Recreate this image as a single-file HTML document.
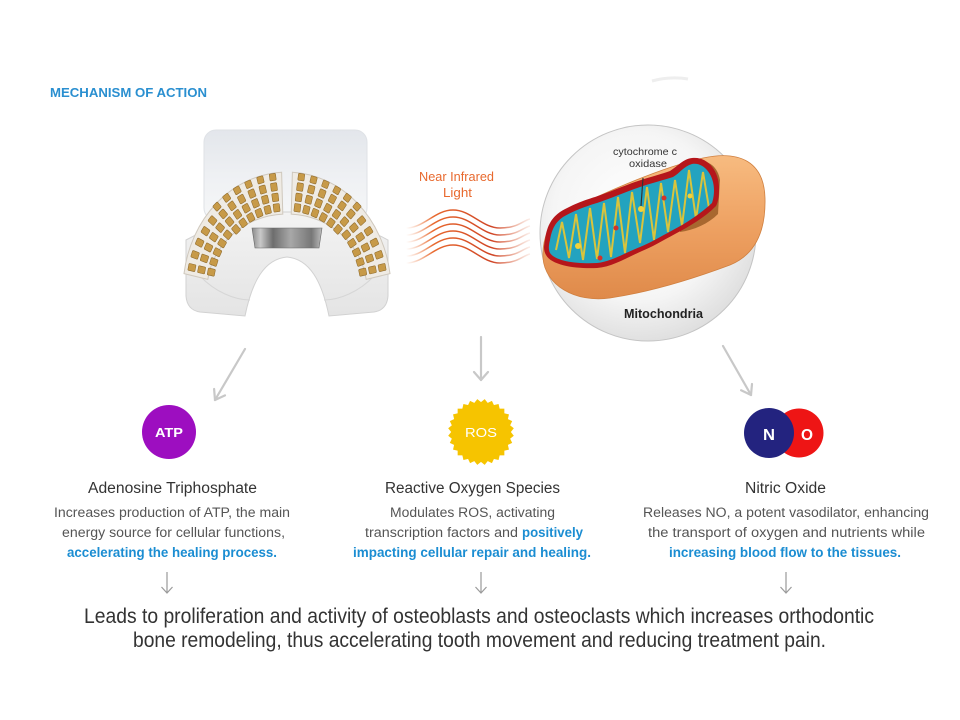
<!DOCTYPE html>
<html><head><meta charset="utf-8"><style>
html,body{margin:0;padding:0;background:#fff;}
svg{display:block;}
text{font-family:"Liberation Sans",Arial,sans-serif;}
</style></head><body>
<svg width="960" height="720" viewBox="0 0 960 720" xmlns="http://www.w3.org/2000/svg">
<defs>
  <linearGradient id="plate" x1="0" y1="0" x2="0" y2="1">
    <stop offset="0" stop-color="#e3e6eb"/><stop offset="0.5" stop-color="#eef0f3"/><stop offset="1" stop-color="#f6f7f8"/>
  </linearGradient>
  <linearGradient id="tray" x1="0" y1="0" x2="0" y2="1">
    <stop offset="0" stop-color="#f3f3f3"/><stop offset="1" stop-color="#e4e4e4"/>
  </linearGradient>
  <linearGradient id="metal" x1="0" y1="0" x2="1" y2="0">
    <stop offset="0" stop-color="#8a8a8a"/><stop offset="0.12" stop-color="#c9c9c9"/><stop offset="0.3" stop-color="#6d6d6d"/>
    <stop offset="0.55" stop-color="#a8a8a8"/><stop offset="0.85" stop-color="#777"/><stop offset="1" stop-color="#bdbdbd"/>
  </linearGradient>
  <radialGradient id="cg" cx="0.45" cy="0.42" r="0.6">
    <stop offset="0" stop-color="#ffffff"/><stop offset="0.65" stop-color="#f5f5f5"/><stop offset="1" stop-color="#dedede"/>
  </radialGradient>
  <linearGradient id="cap" x1="0" y1="0" x2="0" y2="1">
    <stop offset="0" stop-color="#f7bb80"/><stop offset="0.5" stop-color="#eea162"/><stop offset="1" stop-color="#df8a4a"/>
  </linearGradient>
  <linearGradient id="wave" gradientUnits="userSpaceOnUse" x1="406" y1="0" x2="530" y2="0">
    <stop offset="0" stop-color="#f3a27a" stop-opacity="0"/>
    <stop offset="0.22" stop-color="#e8692e" stop-opacity="1"/>
    <stop offset="0.7" stop-color="#cf4526" stop-opacity="1"/>
    <stop offset="1" stop-color="#e58a6a" stop-opacity="0.15"/>
  </linearGradient>
  <clipPath id="tealclip">
    <path d="M550 240 C552 228,556 222,563 217 C575 210,590 205,597 203 C612 198,628 191,640 187 C652 183,664 180,673 177 C680 173,684 166,692 164 C704 162,714 175,714 190 C714 196,713 200,712 203 C700 214,688 222,673 230 C660 237,650 243,640 247 C625 253,610 262,597 263 C580 264,556 262,550 253 C548 249,549 244,550 240 Z"/>
  </clipPath>
  <g id="padcol4" fill="#c79a48" stroke="#8e6a2c" stroke-width="0.6">
    <rect x="79" y="-3.5" width="8" height="7" rx="1"/>
    <rect x="89.5" y="-3.5" width="8" height="7" rx="1"/>
    <rect x="100" y="-3.5" width="8" height="7" rx="1"/>
    <rect x="110.5" y="-3.5" width="7" height="7" rx="1"/>
  </g>
  <g id="padcol3" fill="#c79a48" stroke="#8e6a2c" stroke-width="0.6">
    <rect x="82" y="-3.5" width="8" height="7" rx="1"/>
    <rect x="93" y="-3.5" width="8" height="7" rx="1"/>
    <rect x="104" y="-3.5" width="8" height="7" rx="1"/>
  </g>
</defs>

<!-- Header -->
<text x="50" y="97" font-size="13" font-weight="bold" fill="#2a8fd0" textLength="157" lengthAdjust="spacingAndGlyphs">MECHANISM OF ACTION</text>

<!-- Device -->
<rect x="204" y="130" width="163" height="90" rx="12" fill="url(#plate)" stroke="#dfe2e6" stroke-width="1"/>
<path d="M186 240 L240 212 L334 212 L388 240 L388 296 Q387 310 374 312 L329 316 C322 282,310 259,287 257 C264 259,252 282,245 316 L200 312 Q187 310 186 296 Z" fill="url(#tray)" stroke="#d2d2d2" stroke-width="1"/>
<path d="M200 276 C215 292,235 300,250 300" fill="none" stroke="#d6d6d6" stroke-width="1"/>
<path d="M374 276 C359 292,339 300,324 300" fill="none" stroke="#d6d6d6" stroke-width="1"/>
<!-- wings -->
<path d="M281.6 172.2 A104 118 0 0 0 184 273.6 L207.8 279.4 A80 76 0 0 1 282.8 214.1 Z" fill="#efebe4" stroke="#cfc8bd" stroke-width="1"/>
<path d="M292.4 172.2 A104 118 0 0 1 390 273.6 L366.2 279.4 A80 76 0 0 0 291.2 214.1 Z" fill="#efebe4" stroke="#cfc8bd" stroke-width="1"/>
<g transform="translate(287,290) scale(0.9,1)">
  <use href="#padcol4" transform="rotate(-98)"/>
  <use href="#padcol4" transform="rotate(-105)"/>
  <use href="#padcol4" transform="rotate(-112)"/>
  <use href="#padcol4" transform="rotate(-119)"/>
  <use href="#padcol4" transform="rotate(-126)"/>
  <use href="#padcol4" transform="rotate(-133)"/>
  <use href="#padcol3" transform="rotate(-140)"/>
  <use href="#padcol3" transform="rotate(-147)"/>
  <use href="#padcol3" transform="rotate(-154)"/>
  <use href="#padcol3" transform="rotate(-161)"/>
  <use href="#padcol3" transform="rotate(-168)"/>
  <use href="#padcol4" transform="rotate(-82)"/>
  <use href="#padcol4" transform="rotate(-75)"/>
  <use href="#padcol4" transform="rotate(-68)"/>
  <use href="#padcol4" transform="rotate(-61)"/>
  <use href="#padcol4" transform="rotate(-54)"/>
  <use href="#padcol4" transform="rotate(-47)"/>
  <use href="#padcol3" transform="rotate(-40)"/>
  <use href="#padcol3" transform="rotate(-33)"/>
  <use href="#padcol3" transform="rotate(-26)"/>
  <use href="#padcol3" transform="rotate(-19)"/>
  <use href="#padcol3" transform="rotate(-12)"/>
</g>
<path d="M252 228 L322 228 L319 248 L255 248 Z" fill="url(#metal)" stroke="#666" stroke-width="0.6"/>

<!-- Near infrared light -->
<text x="419" y="181" font-size="12.5" fill="#e8692e" textLength="75" lengthAdjust="spacingAndGlyphs">Near Infrared</text>
<text x="443" y="197" font-size="12.5" fill="#e8692e" textLength="29" lengthAdjust="spacingAndGlyphs">Light</text>
<g fill="none" stroke="url(#wave)" stroke-width="1.5">
  <path d="M406 228 C424 228,435 210,453 210 S482 228,500 228 S522 221,530 219"/>
  <path d="M406 235 C424 235,435 217,453 217 S482 235,500 235 S522 228,530 226"/>
  <path d="M406 242 C424 242,435 224,453 224 S482 242,500 242 S522 235,530 233"/>
  <path d="M406 249 C424 249,435 231,453 231 S482 249,500 249 S522 242,530 240"/>
  <path d="M406 256 C424 256,435 238,453 238 S482 256,500 256 S522 249,530 247"/>
  <path d="M406 263 C424 263,435 245,453 245 S482 263,500 263 S522 256,530 254"/>
</g>

<!-- Mitochondria -->
<path d="M652 81 Q670 76 688 79" fill="none" stroke="#e2e2e2" stroke-width="3" opacity="0.6"/>
<circle cx="648" cy="233" r="108" fill="url(#cg)" stroke="#c4c4c4" stroke-width="1"/>
<path d="M565 212 C610 190,660 168,703 158 C740 150,764 162,765 198 C766 236,752 256,730 265 C690 280,650 292,610 298 C575 303,545 285,543 258 C542 238,550 220,565 212 Z" fill="url(#cap)" stroke="#d08040" stroke-width="0.8"/>
<path d="M676 170 C690 156,716 156,720 180 L718 214 C708 224,694 230,680 232 Z" fill="#a8672f"/>
<path d="M545 240 C547 224,553 217,560 212 C573 204,588 199,595 197 C610 192,626 185,638 181 C650 177,662 174,670 171 C678 166,683 159,692 158 C708 156,720 172,719 190 C719 197,718 202,716 206 C704 218,690 226,675 234 C662 241,652 247,642 251 C626 258,612 267,597 268 C578 269,552 266,546 255 C543 250,544 245,545 240 Z" fill="#b5161b"/>
<path d="M550 240 C552 228,556 222,563 217 C575 210,590 205,597 203 C612 198,628 191,640 187 C652 183,664 180,673 177 C680 173,684 166,692 164 C704 162,714 175,714 190 C714 196,713 200,712 203 C700 214,688 222,673 230 C660 237,650 243,640 247 C625 253,610 262,597 263 C580 264,556 262,550 253 C548 249,549 244,550 240 Z" fill="#23a3bf"/>
<g clip-path="url(#tealclip)">
  <polyline points="556,250 562,222 569,258 576,214 583,260 590,208 597,259 604,203 611,257 618,197 625,253 632,192 640,243 647,187 654,240 661,183 668,232 675,180 682,226 689,170 696,219 703,172 709,208" fill="none" stroke="#d9c43c" stroke-width="2"/>
  <circle cx="578" cy="246" r="3" fill="#f2d23a"/>
  <circle cx="641" cy="209" r="3" fill="#f2d23a"/>
  <circle cx="616" cy="228" r="2.5" fill="#d2332a"/>
  <circle cx="664" cy="198" r="2.5" fill="#d2332a"/>
  <circle cx="600" cy="258" r="2.5" fill="#d2332a"/>
  <circle cx="690" cy="196" r="2.5" fill="#f2d23a"/>
</g>
<line x1="643" y1="178" x2="641" y2="206" stroke="#333" stroke-width="1.2"/>
<text x="613" y="155" font-size="10.5" fill="#333" textLength="64" lengthAdjust="spacingAndGlyphs">cytochrome c</text>
<text x="629" y="167" font-size="10.5" fill="#333" textLength="38" lengthAdjust="spacingAndGlyphs">oxidase</text>
<text x="624" y="318" font-size="12.5" font-weight="bold" fill="#222" textLength="79" lengthAdjust="spacingAndGlyphs">Mitochondria</text>

<!-- Big arrows -->
<g fill="none" stroke="#c8c8c8" stroke-width="2.2" stroke-linecap="round" stroke-linejoin="round">
  <line x1="245" y1="349" x2="215" y2="400"/>
  <path d="M225 395.4 L215 400 L214.1 389"/>
  <line x1="481" y1="337" x2="481" y2="380"/>
  <path d="M474 372 L481 380 L488 372"/>
  <line x1="723" y1="346" x2="751" y2="395"/>
  <path d="M752 384 L751 395 L741.1 390.3"/>
</g>

<!-- ATP -->
<circle cx="169" cy="432" r="27" fill="#9d0ec0"/>
<text x="155" y="437" font-size="13" font-weight="bold" fill="#fff" textLength="28" lengthAdjust="spacingAndGlyphs">ATP</text>

<!-- ROS starburst -->
<g fill="#f6c400">
  <rect x="457.65" y="408.65" width="46.7" height="46.7"/>
  <rect x="457.65" y="408.65" width="46.7" height="46.7" transform="rotate(12.857 481 432)"/>
  <rect x="457.65" y="408.65" width="46.7" height="46.7" transform="rotate(25.714 481 432)"/>
  <rect x="457.65" y="408.65" width="46.7" height="46.7" transform="rotate(38.571 481 432)"/>
  <rect x="457.65" y="408.65" width="46.7" height="46.7" transform="rotate(51.429 481 432)"/>
  <rect x="457.65" y="408.65" width="46.7" height="46.7" transform="rotate(64.286 481 432)"/>
  <rect x="457.65" y="408.65" width="46.7" height="46.7" transform="rotate(77.143 481 432)"/>
</g>
<text x="465" y="437" font-size="13" fill="#fff" textLength="32" lengthAdjust="spacingAndGlyphs">ROS</text>

<!-- NO -->
<circle cx="799" cy="433" r="24.5" fill="#ee1515"/>
<circle cx="769" cy="433" r="25" fill="#23237f"/>
<text x="763" y="440" font-size="16" font-weight="bold" fill="#fff" textLength="12" lengthAdjust="spacingAndGlyphs">N</text>
<text x="801" y="440" font-size="16" font-weight="bold" fill="#fff" textLength="12" lengthAdjust="spacingAndGlyphs">O</text>

<!-- Column 1 -->
<text x="88" y="493" font-size="15.5" fill="#333" textLength="169" lengthAdjust="spacingAndGlyphs">Adenosine Triphosphate</text>
<text x="54" y="517" font-size="13.5" fill="#555" textLength="236" lengthAdjust="spacingAndGlyphs">Increases production of ATP, the main</text>
<text x="62" y="537" font-size="13.5" fill="#555" textLength="223" lengthAdjust="spacingAndGlyphs">energy source for cellular functions,</text>
<text x="67" y="557" font-size="13.5" font-weight="bold" fill="#1b8dd2" textLength="210" lengthAdjust="spacingAndGlyphs">accelerating the healing process.</text>

<!-- Column 2 -->
<text x="385" y="493" font-size="15.5" fill="#333" textLength="175" lengthAdjust="spacingAndGlyphs">Reactive Oxygen Species</text>
<text x="390" y="517" font-size="13.5" fill="#555" textLength="165" lengthAdjust="spacingAndGlyphs">Modulates ROS, activating</text>
<text x="365" y="537" font-size="13.5" fill="#555" textLength="153" lengthAdjust="spacingAndGlyphs">transcription factors and</text>
<text x="522" y="537" font-size="13.5" font-weight="bold" fill="#1b8dd2" textLength="61" lengthAdjust="spacingAndGlyphs">positively</text>
<text x="353" y="557" font-size="13.5" font-weight="bold" fill="#1b8dd2" textLength="238" lengthAdjust="spacingAndGlyphs">impacting cellular repair and healing.</text>

<!-- Column 3 -->
<text x="745" y="493" font-size="15.5" fill="#333" textLength="81" lengthAdjust="spacingAndGlyphs">Nitric Oxide</text>
<text x="643" y="517" font-size="13.5" fill="#555" textLength="286" lengthAdjust="spacingAndGlyphs">Releases NO, a potent vasodilator, enhancing</text>
<text x="648" y="537" font-size="13.5" fill="#555" textLength="277" lengthAdjust="spacingAndGlyphs">the transport of oxygen and nutrients while</text>
<text x="669" y="557" font-size="13.5" font-weight="bold" fill="#1b8dd2" textLength="232" lengthAdjust="spacingAndGlyphs">increasing blood flow to the tissues.</text>

<!-- Small arrows -->
<g fill="none" stroke="#9a9a9a" stroke-width="1.2">
  <line x1="167" y1="572" x2="167" y2="593"/><path d="M161.5 587 L167 593 L172.5 587"/>
  <line x1="481" y1="572" x2="481" y2="593"/><path d="M475.5 587 L481 593 L486.5 587"/>
  <line x1="786" y1="572" x2="786" y2="593"/><path d="M780.5 587 L786 593 L791.5 587"/>
</g>

<!-- Bottom text -->
<text x="84" y="623" font-size="21" fill="#333" textLength="790" lengthAdjust="spacingAndGlyphs">Leads to proliferation and activity of osteoblasts and osteoclasts which increases orthodontic</text>
<text x="133" y="647" font-size="21" fill="#333" textLength="693" lengthAdjust="spacingAndGlyphs">bone remodeling, thus accelerating tooth movement and reducing treatment pain.</text>
</svg>
</body></html>
